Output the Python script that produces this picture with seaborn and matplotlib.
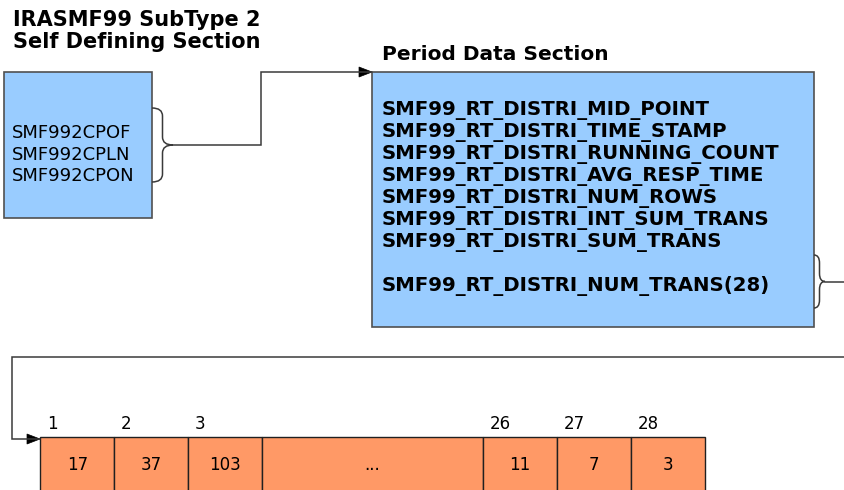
"""Diagrama de la estructura del registro SMF99 subtipo 2."""
import numpy as np
import matplotlib.pyplot as plt
from matplotlib.patches import Rectangle, Polygon, PathPatch
from matplotlib.path import Path
import seaborn as sns

sns.set_theme(style="white")
plt.rcParams['font.family'] = ['DejaVu Sans']

# Datos del diagrama
title_left = "IRASMF99 SubType 2\nSelf Defining Section"
left_fields = ["SMF992CPOF", "SMF992CPLN", "SMF992CPON"]
title_right = "Period Data Section"
period_fields = [
    "SMF99_RT_DISTRI_MID_POINT",
    "SMF99_RT_DISTRI_TIME_STAMP",
    "SMF99_RT_DISTRI_RUNNING_COUNT",
    "SMF99_RT_DISTRI_AVG_RESP_TIME",
    "SMF99_RT_DISTRI_NUM_ROWS",
    "SMF99_RT_DISTRI_INT_SUM_TRANS",
    "SMF99_RT_DISTRI_SUM_TRANS",
    "",
    "SMF99_RT_DISTRI_NUM_TRANS(28)",
]
bucket_index = ["1", "2", "3", "", "26", "27", "28"]
bucket_values = ["17", "37", "103", "...", "11", "7", "3"]

BLUE = "#99CCFF"
ORANGE = "#FF9966"
EDGE = "#505050"
LINE = "#3a3a3a"

fig = plt.figure(figsize=(8.44, 4.90), dpi=100)
ax = fig.add_axes([0, 0, 1, 1])
ax.set_xlim(0, 844)
ax.set_ylim(490, 0)
ax.axis('off')


def brace(ax, x0, y0, y1, w):
    """Llave derecha '}' entre y0 e y1, con la punta en x0 + w."""
    ym = (y0 + y1) / 2
    xm = x0 + w / 2
    r = min(8, (y1 - y0) / 4)
    verts = [(x0, y0), (xm, y0), (xm, y0 + r),
             (xm, ym - r), (xm, ym), (x0 + w, ym),
             (xm, ym), (xm, ym + r),
             (xm, y1 - r), (xm, y1), (x0, y1)]
    codes = [Path.MOVETO, Path.CURVE3, Path.CURVE3,
             Path.LINETO, Path.CURVE3, Path.CURVE3,
             Path.CURVE3, Path.CURVE3,
             Path.LINETO, Path.CURVE3, Path.CURVE3]
    ax.add_patch(PathPatch(Path(verts, codes), fill=False, ec=LINE, lw=1.1))
    return x0 + w, ym


def connector(ax, pts):
    """Línea quebrada con punta de flecha al final."""
    pts = np.array(pts, dtype=float)
    ax.plot(pts[:, 0], pts[:, 1], color=LINE, lw=1.1, solid_joinstyle='miter')
    (xa, ya), (xb, yb) = pts[-2], pts[-1]
    d = np.array([xb - xa, yb - ya])
    d = d / np.hypot(*d)
    n = np.array([-d[1], d[0]])
    tip = np.array([xb, yb])
    base = tip - d * 13
    ax.add_patch(Polygon([tip, base + n * 5, base - n * 5], closed=True,
                         fc='black', ec='black', lw=0.5))


# Sección izquierda
ax.text(13, 31, title_left, fontsize=15, fontweight='bold', va='center',
        ha='left', linespacing=1.1, color='black')
ax.add_patch(Rectangle((4, 72), 148, 146, fc=BLUE, ec=EDGE, lw=1.2))
for i, name in enumerate(left_fields):
    ax.text(12, 133 + i * 21.5, name, fontsize=13, va='center', ha='left',
            color='black')
tip_x, tip_y = brace(ax, 152, 108, 182, 21)
connector(ax, [(tip_x, tip_y), (261, tip_y), (261, 72), (372, 72)])

# Sección de datos del periodo
ax.text(382, 54, title_right, fontsize=14.5, fontweight='bold', va='center',
        ha='left', color='black')
ax.add_patch(Rectangle((372, 72), 442, 255, fc=BLUE, ec=EDGE, lw=1.2))
for i, name in enumerate(period_fields):
    ax.text(382, 110 + i * 22, name, fontsize=14.2, fontweight='bold',
            va='center', ha='left', color='black')
tip_x, tip_y = brace(ax, 814, 255, 308, 11)
ax.plot([tip_x, 844], [tip_y, tip_y], color=LINE, lw=1.1)

# Conector hacia los contadores
connector(ax, [(844, 357), (12, 357), (12, 439), (40, 439)])

# Celdas de contadores
unit = 73.8
spans = [3 if v == "..." else 1 for v in bucket_values]
lefts = 40.4 + unit * np.concatenate([[0], np.cumsum(spans)[:-1]])
widths = unit * np.array(spans)
for x, w, idx, val in zip(lefts, widths, bucket_index, bucket_values):
    ax.add_patch(Rectangle((x, 437), w, 60, fc=ORANGE, ec='#202020', lw=1.0))
    ax.text(x + w / 2, 465, val, fontsize=12, va='center', ha='center',
            color='black')
    if idx:
        ax.text(x + 7, 424, idx, fontsize=12, va='center', ha='left',
                color='black')

fig.savefig("out.png", dpi=100)
